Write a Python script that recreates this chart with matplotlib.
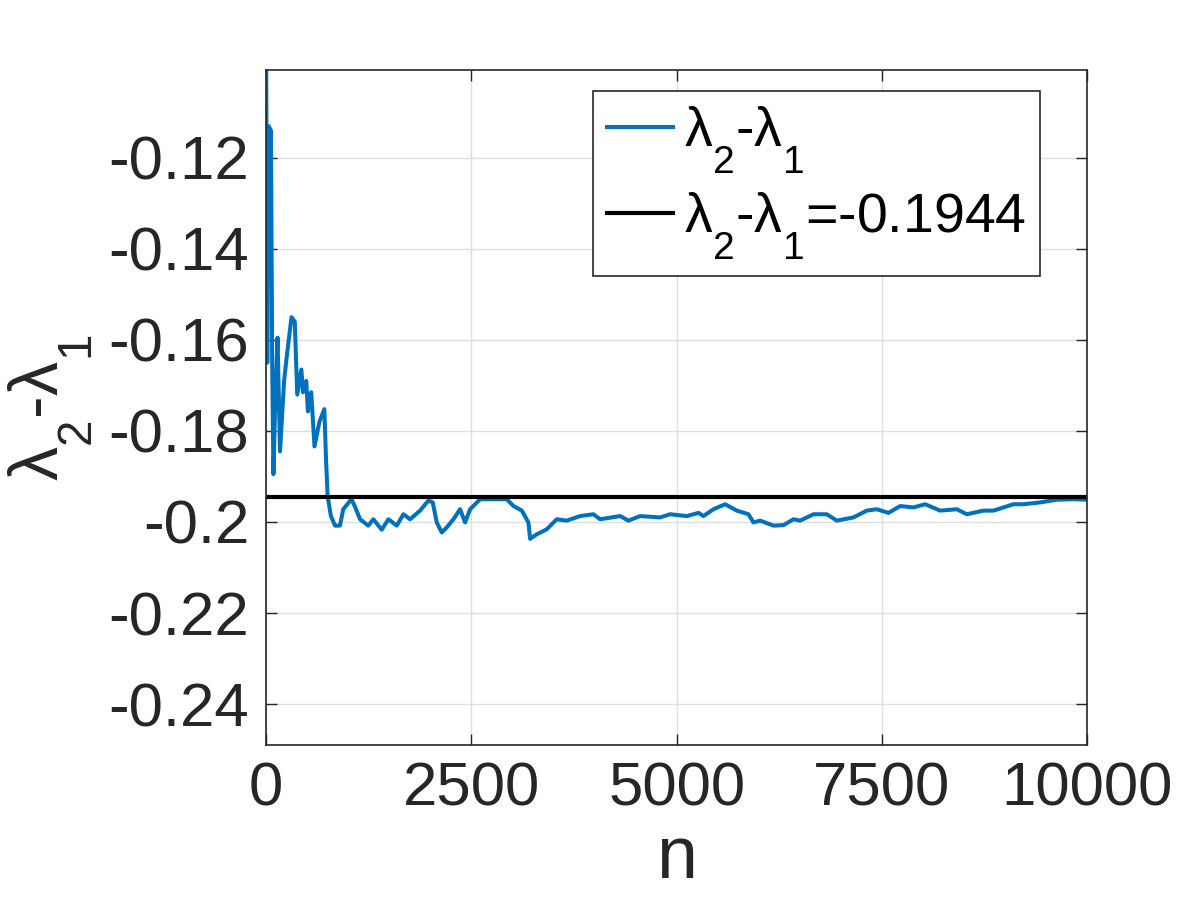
import matplotlib
matplotlib.use("Agg")
from matplotlib import pyplot as plt
from matplotlib.ticker import FuncFormatter

# running estimate of lambda_2 - lambda_1
n_vals = [0, 15, 30, 60, 75, 90, 110, 140, 170, 220, 250, 310, 350, 380, 430,
          450, 490, 510, 550, 590, 650, 710, 730, 750, 790, 840, 900, 940,
          1040, 1080, 1145, 1245, 1307, 1409, 1490, 1592, 1673, 1754, 1876,
          1977, 2030, 2079, 2140, 2200, 2282, 2363, 2424, 2485, 2607, 2729,
          2932, 3014, 3115, 3195, 3216, 3297, 3419, 3540, 3662, 3825, 3987,
          4068, 4312, 4413, 4556, 4799, 4921, 5124, 5266, 5327, 5448, 5591,
          5733, 5875, 5936, 6017, 6179, 6301, 6423, 6504, 6667, 6829, 6951,
          7154, 7316, 7438, 7580, 7722, 7884, 8027, 8209, 8412, 8534, 8737,
          8859, 9102, 9224, 9428, 9631, 9834, 10000]
gap_vals = [-0.09, -0.165, -0.113, -0.114, -0.165, -0.1895, -0.175, -0.1595,
            -0.1845, -0.169, -0.164, -0.155, -0.156, -0.172, -0.1665, -0.1715,
            -0.169, -0.1757, -0.1715, -0.1834, -0.178, -0.1752, -0.186,
            -0.1943, -0.1987, -0.2008, -0.2008, -0.1972, -0.195, -0.1965,
            -0.1994, -0.2008, -0.1994, -0.2017, -0.1994, -0.2008, -0.1983,
            -0.1994, -0.1975, -0.1953, -0.1957, -0.2001, -0.2023, -0.2012,
            -0.1994, -0.1972, -0.2001, -0.1972, -0.195, -0.195, -0.195,
            -0.1965, -0.1975, -0.2001, -0.2037, -0.2027, -0.2016, -0.1994,
            -0.1997, -0.1987, -0.1983, -0.1994, -0.1987, -0.1997, -0.1987,
            -0.199, -0.1983, -0.1987, -0.198, -0.1987, -0.1972, -0.1961,
            -0.1975, -0.1983, -0.2001, -0.1997, -0.2008, -0.2007, -0.1994,
            -0.1997, -0.1983, -0.1983, -0.1997, -0.199, -0.1975, -0.1972,
            -0.198, -0.1965, -0.1968, -0.1961, -0.1975, -0.1972, -0.1983,
            -0.1975, -0.1975, -0.1961, -0.1961, -0.1957, -0.1951, -0.195,
            -0.1951]
ref_gap = -0.1944

x_ticks = [0, 2500, 5000, 7500, 10000]
y_ticks = [-0.24, -0.22, -0.2, -0.18, -0.16, -0.14, -0.12]

plt.rcParams['font.family'] = ['Liberation Sans', 'DejaVu Sans']
plt.rcParams['mathtext.fontset'] = 'custom'
plt.rcParams['mathtext.rm'] = 'Liberation Sans'
plt.rcParams['mathtext.it'] = 'Liberation Sans'
plt.rcParams['mathtext.default'] = 'regular'
plt.rcParams['axes.unicode_minus'] = False

# MATLAB's tex subscripts sit much lower than mathtext's default
try:
    from matplotlib import _mathtext
    _mathtext.FontConstantsBase.sub1 = 0.95
    _mathtext.FontConstantsBase.sub2 = 0.95
except Exception:
    pass

fig = plt.figure(figsize=(12, 9), dpi=100)
ax = fig.add_axes([0.2217, 0.1722, 0.6843, 0.75])

lam = r'$\lambda_2$-$\lambda_1$'
ax.plot(n_vals, gap_vals, color='#0072BD', lw=2.9, label=lam)
ax.axhline(ref_gap, color='black', lw=3, label=lam + '=-0.1944')

ax.set_xlim(0, 10000)
ax.set_ylim(-0.249, -0.1007)
ax.set_xticks(x_ticks)
ax.set_yticks(y_ticks)
ax.yaxis.set_major_formatter(FuncFormatter(lambda v, p: '%g' % round(v, 4)))

ax.grid(True, color='#dedede', lw=1)
ax.set_axisbelow(True)
for s in ax.spines.values():
    s.set_color('#262626')
    s.set_linewidth(1.2)
ax.tick_params(direction='in', length=8, width=1, top=True, right=True,
               labelsize=44.5, colors='#262626', pad=12)

ax.set_xlabel('n', fontsize=53, color='#262626', labelpad=4)
ax.set_ylabel(lam, fontsize=49, color='#262626', labelpad=10)

leg = ax.legend(loc='upper right', bbox_to_anchor=(0.943, 0.969),
                borderaxespad=0, fontsize=40, fancybox=False, framealpha=1,
                edgecolor='#262626', handlelength=1.2, handletextpad=0.2,
                borderpad=0.25, labelspacing=0.25)
leg.get_frame().set_linewidth(1.2)

fig.savefig('out.png', dpi=100)
